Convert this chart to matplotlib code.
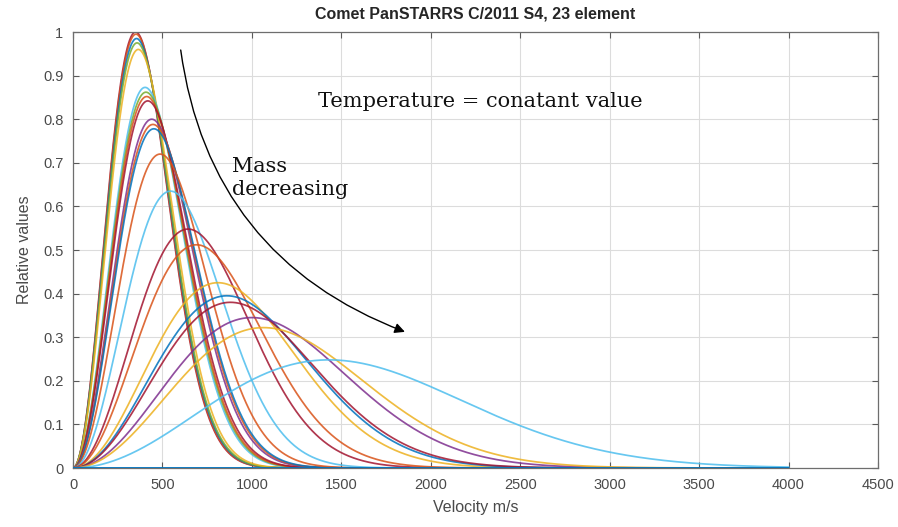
import numpy as np
import matplotlib
matplotlib.use("Agg")
import matplotlib.pyplot as plt
from matplotlib.patches import FancyArrowPatch

# MATLAB default line colours
MC = {'blue': '#0072BD', 'orange': '#D95319', 'yellow': '#EDB120', 'purple': '#7E2F8E',
      'green': '#77AC30', 'cyan': '#4DBEEE', 'red': '#A2142F'}

# peak velocity (m/s) and peak height, one per element
peak_v = [350, 352, 355, 358, 365, 403, 408, 412, 418, 440, 447, 452, 487, 545,
          643, 690, 810, 860, 880, 1000, 1065, 1430]
peak_h = [1.00, 0.995, 0.985, 0.975, 0.96, 0.873, 0.862, 0.852, 0.842, 0.80, 0.788, 0.778,
          0.72, 0.635, 0.548, 0.512, 0.425, 0.395, 0.38, 0.345, 0.322, 0.248]
line_col = ['red', 'orange', 'blue', 'green', 'yellow', 'cyan', 'green', 'orange', 'red',
            'purple', 'orange', 'blue', 'orange', 'cyan', 'red', 'orange', 'yellow', 'blue',
            'red', 'purple', 'yellow', 'cyan']

x_ticks = list(range(0, 4501, 500))
y_ticks = [0, 0.1, 0.2, 0.3, 0.4, 0.5, 0.6, 0.7, 0.8, 0.9, 1.0]
y_labels = ['0', '0.1', '0.2', '0.3', '0.4', '0.5', '0.6', '0.7', '0.8', '0.9', '1']

plt.rcParams['font.family'] = ['Liberation Sans', 'DejaVu Sans']

fig = plt.figure(figsize=(8.98, 5.27), dpi=100)
ax = fig.add_axes([73/898, 59/527, 805/898, 436/527])

v = np.linspace(0, 4000, 1200)
# first element: flat zero line
ax.plot(v, np.zeros_like(v), color=MC['blue'], lw=1.3, zorder=3)
for vp, h, c in zip(peak_v, peak_h, line_col):
    r = v / vp
    ax.plot(v, h * r**2 * np.exp(1 - r**2), color=MC[c], lw=1.25, alpha=0.85, zorder=2)

ax.set_xlim(0, 4500); ax.set_ylim(0, 1)
ax.set_xticks(x_ticks); ax.set_yticks(y_ticks)
ax.set_yticklabels(y_labels)
ax.grid(True, color='#dcdcdc', lw=0.8)
ax.set_axisbelow(True)
ax.tick_params(direction='in', top=True, right=True, length=4, colors='#5a5a5a',
               labelsize=10.5, labelcolor='#4a4a4a', pad=7)
for s in ax.spines.values():
    s.set_color('#6e6e6e'); s.set_linewidth(0.9)
ax.set_xlabel('Velocity m/s', fontsize=11.5, color='#4a4a4a', labelpad=6)
ax.set_ylabel('Relative values', fontsize=11.5, color='#4a4a4a', labelpad=8)
ax.set_title('Comet PanSTARRS C/2011 S4, 23 element', fontsize=11.5, fontweight='bold',
             color='#262626', pad=10)

serif = ['DejaVu Serif']
ax.text(1370, 0.84, 'Temperature = conatant value', family=serif, fontsize=15,
        ha='left', va='center', color='#111111')
ax.text(890, 0.665, 'Mass\ndecreasing', family=serif, fontsize=15, ha='left',
        va='center', color='#111111', linespacing=1.25)
ax.add_patch(FancyArrowPatch((600, 0.965), (1870, 0.31), connectionstyle='arc3,rad=0.3',
             arrowstyle='-|>', mutation_scale=15, lw=1.0, color='black', zorder=5))

fig.savefig('out.png', dpi=100)
